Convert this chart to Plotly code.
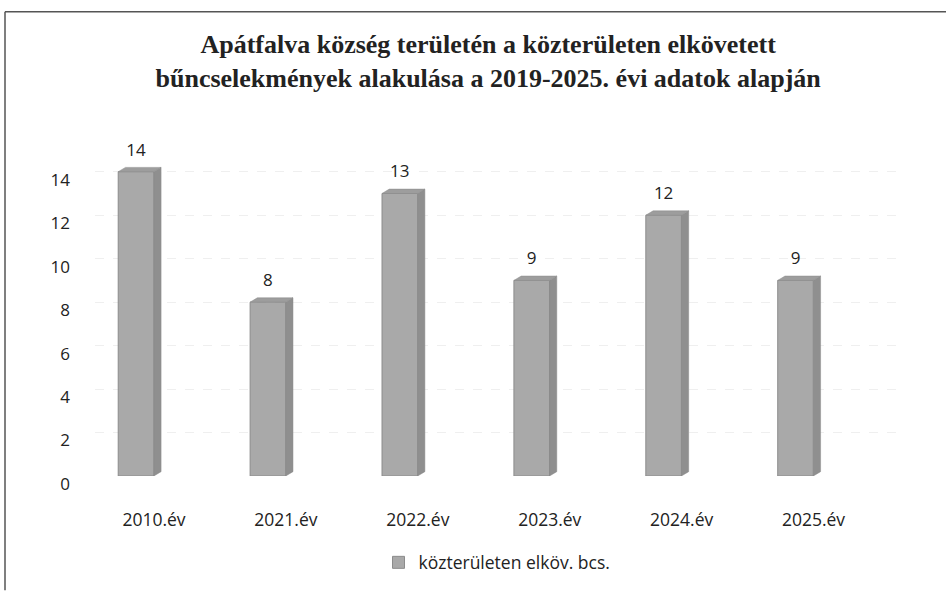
import plotly.graph_objects as go

categories = ["2010.év", "2021.év", "2022.év", "2023.év", "2024.év", "2025.év"]
values = [14, 8, 13, 9, 12, 9]
y_ticks = [0, 2, 4, 6, 8, 10, 12, 14]
series_name = "közterületen elköv. bcs."
title_text = ("<b>Apátfalva község területén a közterületen elkövetett<br>"
              "bűncselekmények alakulása a 2019-2025. évi adatok alapján</b>")

xs = list(range(len(categories)))
hw = 0.135   # half bar width
dx = 0.055   # depth offset (x)
dy = 0.2     # depth offset (y)

fig = go.Figure()

# front faces
fig.add_trace(go.Bar(
    x=xs, y=values, width=2 * hw, name=series_name,
    marker=dict(color="#a9a9a9", line=dict(color="#8c8c8c", width=1)),
    showlegend=True,
))

# side and top faces (3D look), computed from the data
for x, v in zip(xs, values):
    fig.add_trace(go.Scatter(
        x=[x + hw, x + hw + dx, x + hw + dx, x + hw, x + hw],
        y=[0, dy, v + dy, v, 0],
        fill="toself", mode="lines", fillcolor="#8f8f8f",
        line=dict(color="#8a8a8a", width=0.5), showlegend=False, hoverinfo="skip",
    ))
    fig.add_trace(go.Scatter(
        x=[x - hw, x - hw + dx, x + hw + dx, x + hw, x - hw],
        y=[v, v + dy, v + dy, v, v],
        fill="toself", mode="lines", fillcolor="#9d9d9d",
        line=dict(color="#8a8a8a", width=0.5), showlegend=False, hoverinfo="skip",
    ))

# data labels
fig.add_trace(go.Scatter(
    x=xs, y=[v + dy + 0.35 for v in values], mode="text",
    text=[str(v) for v in values], textposition="top center",
    textfont=dict(family="Open Sans, sans-serif", size=17, color="#222222"),
    showlegend=False, hoverinfo="skip", cliponaxis=False,
))

L, R, T, B = 95, 905, 150, 478
W, H = 946, 593
pw, ph = R - L, B - T

def px(xpix):
    return (xpix - L) / pw

def py(ypix):
    return (B - ypix) / ph

fig.update_layout(
    width=W, height=H,
    margin=dict(l=L, r=W - R, t=T, b=H - B),
    paper_bgcolor="white", plot_bgcolor="white",
    title=dict(text=title_text, x=0.516, xanchor="center", y=1 - 53 / H, yanchor="middle",
               font=dict(family="Liberation Serif, Times New Roman, serif", size=26, color="#222222")),
    font=dict(family="Open Sans, sans-serif", size=16, color="#222222"),
    xaxis=dict(range=[-0.311, 5.83], tickvals=xs, ticktext=categories, showgrid=False,
               zeroline=False, showline=False, ticks="", ticklabelstandoff=31,
               ticklabelshift=18, tickfont=dict(size=17.5)),
    yaxis=dict(range=[0, 15], tickvals=y_ticks, showgrid=True, gridcolor="#efefef",
               griddash="dash", zeroline=False, showline=False, ticks="",
               ticklabelstandoff=24, ticklabelshift=8, tickfont=dict(size=17)),
    legend=dict(orientation="h", x=px(497), xanchor="center", y=py(565), yanchor="middle",
                font=dict(size=17.5), itemwidth=30),
    showlegend=True,
    shapes=[
        dict(type="line", xref="paper", yref="paper", x0=px(5), x1=px(946), y0=py(11), y1=py(11),
             line=dict(color="#555555", width=1.5)),
        dict(type="line", xref="paper", yref="paper", x0=px(5), x1=px(5), y0=py(11), y1=py(593),
             line=dict(color="#555555", width=1.5)),
    ],
)

fig.write_html("out.html", post_script="document.body.style.margin='0';",
               config={"displayModeBar": False})
